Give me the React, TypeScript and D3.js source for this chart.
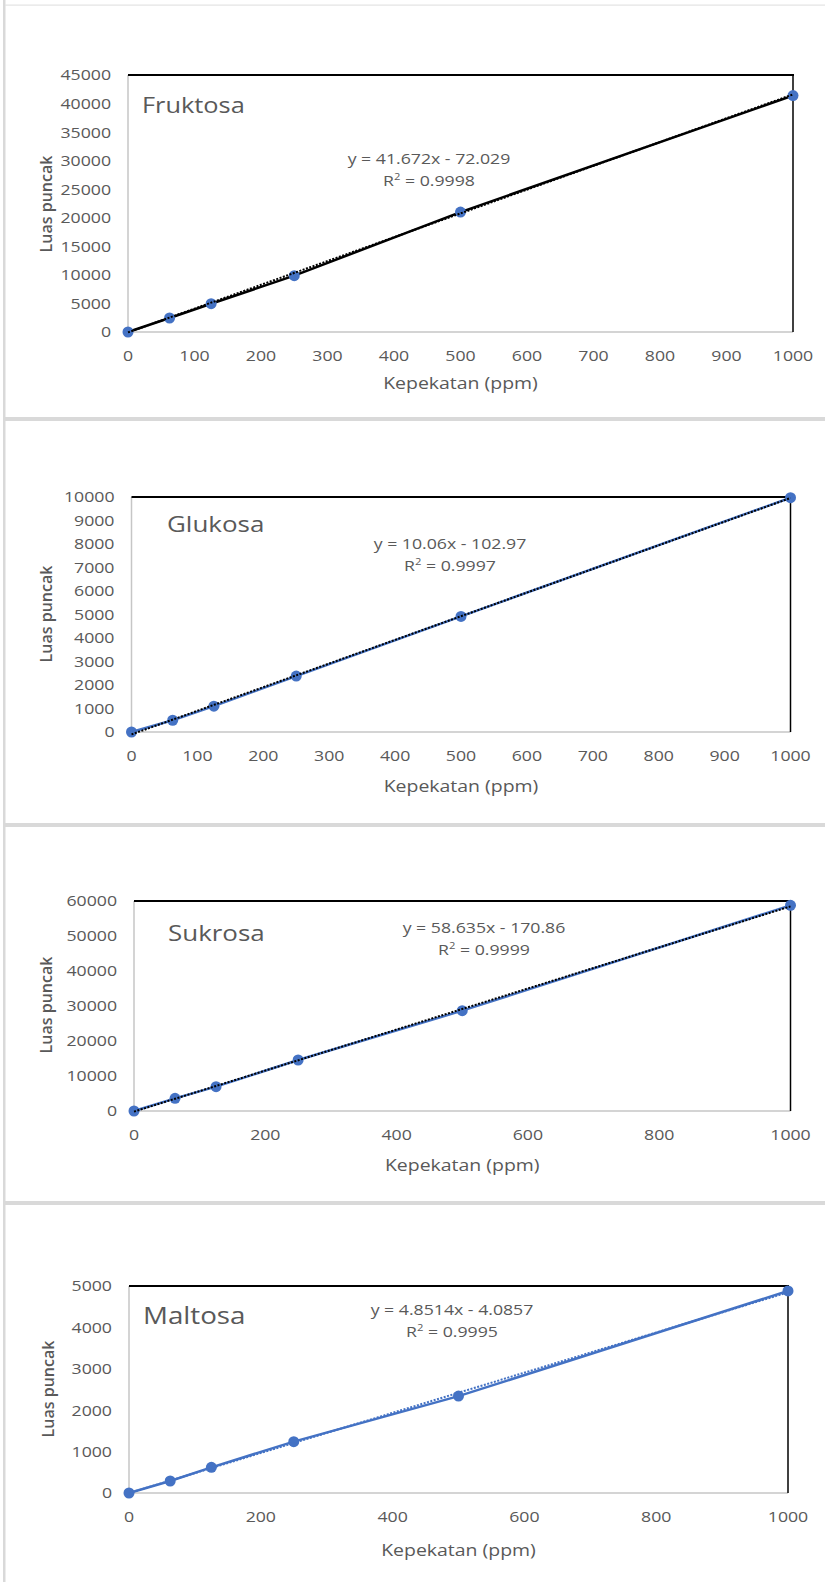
import React from 'react'
import * as d3 from 'd3'

// concentrations (ppm) shared by all four standards
const conc = [0, 62.5, 125, 250, 500, 1000]

// peak areas
const fruktosa = [0, 2450, 4950, 9860, 21000, 41400]
const glukosa = [0, 500, 1100, 2380, 4920, 9970]
const sukrosa = [0, 3620, 6950, 14570, 28670, 58760]
const maltosa = [0, 290, 620, 1240, 2340, 4880]

// linear trendlines as printed on the charts
const slopes = [41.672, 10.06, 58.635, 4.8514]
const intercepts = [-72.029, -102.97, -170.86, -4.0857]
const r2s = ['0.9998', '0.9997', '0.9999', '0.9995']
const eqLabels = ['y = 41.672x - 72.029', 'y = 10.06x - 102.97', 'y = 58.635x - 170.86', 'y = 4.8514x - 4.0857']

const names = ['Fruktosa', 'Glukosa', 'Sukrosa', 'Maltosa']
const yMaxes = [45000, 10000, 60000, 5000]
const yTickSteps = [5000, 1000, 10000, 1000]
const xTickSteps = [100, 100, 200, 200]

const BLUE = '#4472C4'
const GREY = '#595959'
const FONT = "'Open Sans', 'DejaVu Sans', sans-serif"
const SX = 1.18

// layout of each panel (pixel boxes)
const layout = [
  { x0: 128, x1: 793, yT: 75, yB: 332, title: [142, 113, 21.5], eq: [429, 159], yTitle: [46, 204], xTitle: 51, line: 'black', trend: 'black' },
  { x0: 131.5, x1: 790.5, yT: 497, yB: 732, title: [167, 532, 22], eq: [450, 544], yTitle: [46, 614], xTitle: 54, line: BLUE, trend: 'black' },
  { x0: 134, x1: 790.5, yT: 901, yB: 1111, title: [168, 941, 22], eq: [484, 928], yTitle: [46, 1005], xTitle: 54, line: BLUE, trend: 'black' },
  { x0: 129, x1: 788, yT: 1286, yB: 1493, title: [143, 1324, 23.5], eq: [452, 1310], yTitle: [48, 1389], xTitle: 57, line: BLUE, trend: BLUE },
]

const series = [fruktosa, glukosa, sukrosa, maltosa]

const T = ({ x, y, size, anchor = 'middle', children, dy = '0', weight = 400 }: any) => (
  <text
    transform={`translate(${x},${y}) scale(${SX},1)`}
    textAnchor={anchor}
    dy={dy}
    fontSize={size}
    fontFamily={FONT}
    fontWeight={weight}
    fill={GREY}
  >
    {children}
  </text>
)

const Panel = ({ i }: { i: number }) => {
  const L = layout[i]
  const x = d3.scaleLinear().domain([0, 1000]).range([L.x0, L.x1])
  const y = d3.scaleLinear().domain([0, yMaxes[i]]).range([L.yB, L.yT])
  const pts = conc.map((c, k) => [c, series[i][k]] as [number, number])
  const line = d3.line<[number, number]>().x(d => x(d[0])).y(d => y(d[1]))
  const trendPts: [number, number][] = [0, 1000].map(c => [c, slopes[i] * c + intercepts[i]])
  const yTicks = d3.range(0, yMaxes[i] + 1, yTickSteps[i])
  const xTicks = d3.range(0, 1001, xTickSteps[i])
  return (
    <g>
      <line x1={L.x0} x2={L.x0} y1={L.yT} y2={L.yB} stroke="#c6c6c6" strokeWidth={1.5} />
      <line x1={L.x0} x2={L.x1} y1={L.yB} y2={L.yB} stroke="#c6c6c6" strokeWidth={1.5} />
      <line x1={L.x0} x2={L.x1 + 1} y1={L.yT} y2={L.yT} stroke="black" strokeWidth={2} />
      <line x1={L.x1} x2={L.x1} y1={L.yT} y2={L.yB} stroke="black" strokeWidth={1.5} />
      {yTicks.map(t => (
        <T key={t} x={L.x0 - 17} y={y(t)} size={15} anchor="end" dy="0.36em">{t}</T>
      ))}
      {xTicks.map(t => (
        <T key={t} x={x(t)} y={L.yB + 24} size={15} dy="0.36em">{t}</T>
      ))}
      <T x={(L.x0 + L.x1) / 2} y={L.yB + L.xTitle} size={16.5} dy="0.36em">Kepekatan (ppm)</T>
      <text
        transform={`translate(${L.yTitle[0]},${L.yTitle[1]}) rotate(-90)`}
        textAnchor="middle"
        dy="0.36em"
        fontSize={16}
        fontFamily={FONT}
        fontWeight={600}
        fill={GREY}
      >
        Luas puncak
      </text>
      <T x={L.title[0]} y={L.title[1]} size={L.title[2]} anchor="start">{names[i]}</T>
      <T x={L.eq[0]} y={L.eq[1]} size={15} dy="0.36em">{eqLabels[i]}</T>
      <T x={L.eq[0]} y={L.eq[1] + 22} size={15} dy="0.36em">
        R<tspan fontSize={9.5} dy="-6">2</tspan><tspan dy="6"> = {r2s[i]}</tspan>
      </T>
      <path d={line(pts) || ''} fill="none" stroke={L.line} strokeWidth={2.5} />
      {pts.map((p, k) => (
        <circle key={k} cx={x(p[0])} cy={y(p[1])} r={5.5} fill={BLUE} />
      ))}
      <path d={line(trendPts) || ''} fill="none" stroke={L.trend} strokeWidth={2} strokeDasharray="2,1.5" />
    </g>
  )
}

const separators = [417, 823, 1201]

const App = () => (
  <div style={{ position: 'absolute', left: 0, top: 0 }}>
    <svg width={825} height={1582} style={{ display: 'block', background: 'white' }}>
      <rect x={3} y={0} width={2.5} height={1582} fill="#d9d9d9" />
      <rect x={5} y={4.5} width={820} height={1.2} fill="#e3e3e3" />
      {separators.map(s => (
        <rect key={s} x={5} y={s} width={820} height={4} fill="#d9d9d9" />
      ))}
      {names.map((_, i) => <Panel key={i} i={i} />)}
    </svg>
  </div>
)

export default App
